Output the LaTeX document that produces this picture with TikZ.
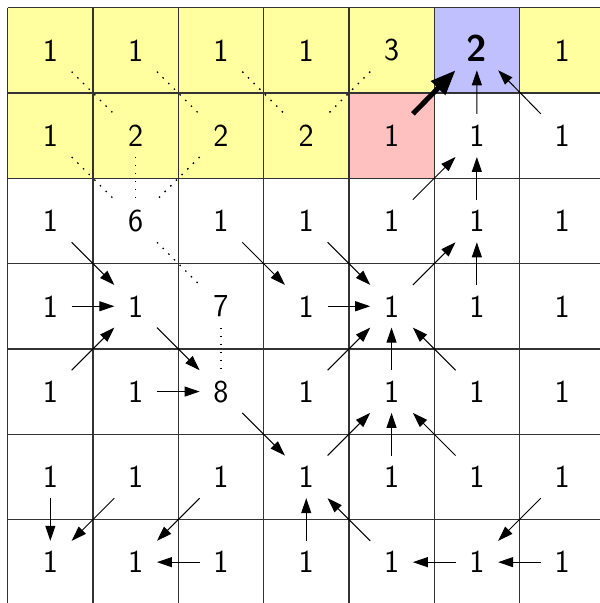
\documentclass[tikz,border=0pt]{standalone}
\usetikzlibrary{arrows.meta,calc}
\definecolor{cyel}{RGB}{255,255,160}
\definecolor{cblue}{RGB}{192,192,255}
\definecolor{cpink}{RGB}{255,192,192}
\newcommand\flowarrow[3][arr]{\draw[#1] ($(#2)!.25!(#3)$) -- ($(#2)!.75!(#3)$);}
\begin{document}
\begin{tikzpicture}[x=1pt,y=-1pt,
  num/.style={font=\sffamily\fontsize{32}{36}\selectfont, inner sep=0pt},
  bignum/.style={font=\sffamily\bfseries\fontsize{37}{42}\selectfont, inner sep=0pt},
  arr/.style={-{Triangle[length=15pt,width=10pt]}, line width=1pt},
  bigarr/.style={-{Triangle[length=25pt,width=19pt]}, line width=5pt},
  dotline/.style={line width=1.3pt, dash pattern=on 1.5pt off 6.5pt, black},
  gridline/.style={line width=1.3pt, black!80}]
\useasboundingbox (0,0) rectangle (600,603);
\clip (0,0) rectangle (600,603);
% coloured cells
\fill[cyel] (7.7,7.7) rectangle ++(426.5,85.3);
\fill[cyel] (519.5,7.7) rectangle ++(85.3,85.3);
\fill[cyel] (7.7,93) rectangle ++(341.2,85.3);
\fill[cblue] (434.2,7.7) rectangle ++(85.3,85.3);
\fill[cpink] (348.9,93) rectangle ++(85.3,85.3);
% grid
\foreach \k in {0,...,7}{
  \draw[gridline] ({7.7+85.3*\k},7.7) -- ({7.7+85.3*\k},604.8);
  \draw[gridline] (7.7,{7.7+85.3*\k}) -- (604.8,{7.7+85.3*\k});
}
% numbers
\foreach \r/\vals in {1/{1,2,2,2,1,1,1},2/{1,6,1,1,1,1,1},3/{1,1,7,1,1,1,1},
    4/{1,1,8,1,1,1,1},5/{1,1,1,1,1,1,1},6/{1,1,1,1,1,1,1}}{
  \foreach \v [count=\c from 0] in \vals{
    \node[num] (n\r\c) at ({50.35+85.3*\c},{50.35+85.3*\r}) {\v};
  }
}
\node[num] (n00) at (50.35,50.35) {1};
\node[num] (n01) at (135.65,50.35) {1};
\node[num] (n02) at (220.95,50.35) {1};
\node[num] (n03) at (306.25,50.35) {1};
\node[num] (n04) at (391.55,50.35) {3};
\node[bignum] (n05) at (476.85,48.5) {2};
\node[num] (n06) at (562.15,50.35) {1};
% dotted links
\foreach \a/\b in {n00/n11,n01/n12,n02/n13,n04/n13,n10/n21,n11/n21,n12/n21,n21/n32,n32/n42}{
  \draw[dotline] ($(\a)!.25!(\b)$) -- ($(\a)!.75!(\b)$);
}
% flow arrows
\flowarrow[bigarr]{n14}{n05}
\foreach \a/\b in {n15/n05,n16/n05,n24/n15,n25/n15,n34/n25,n35/n25,
  n20/n31,n30/n31,n40/n31,n31/n42,n41/n42,n22/n33,n23/n34,n33/n34,n43/n34,
  n44/n34,n45/n34,n42/n53,n53/n44,n54/n44,n55/n44,n50/n60,n51/n60,n52/n61,
  n62/n61,n63/n53,n64/n53,n56/n65,n65/n64,n66/n65}{
  \flowarrow{\a}{\b}
}
\end{tikzpicture}
\end{document}
